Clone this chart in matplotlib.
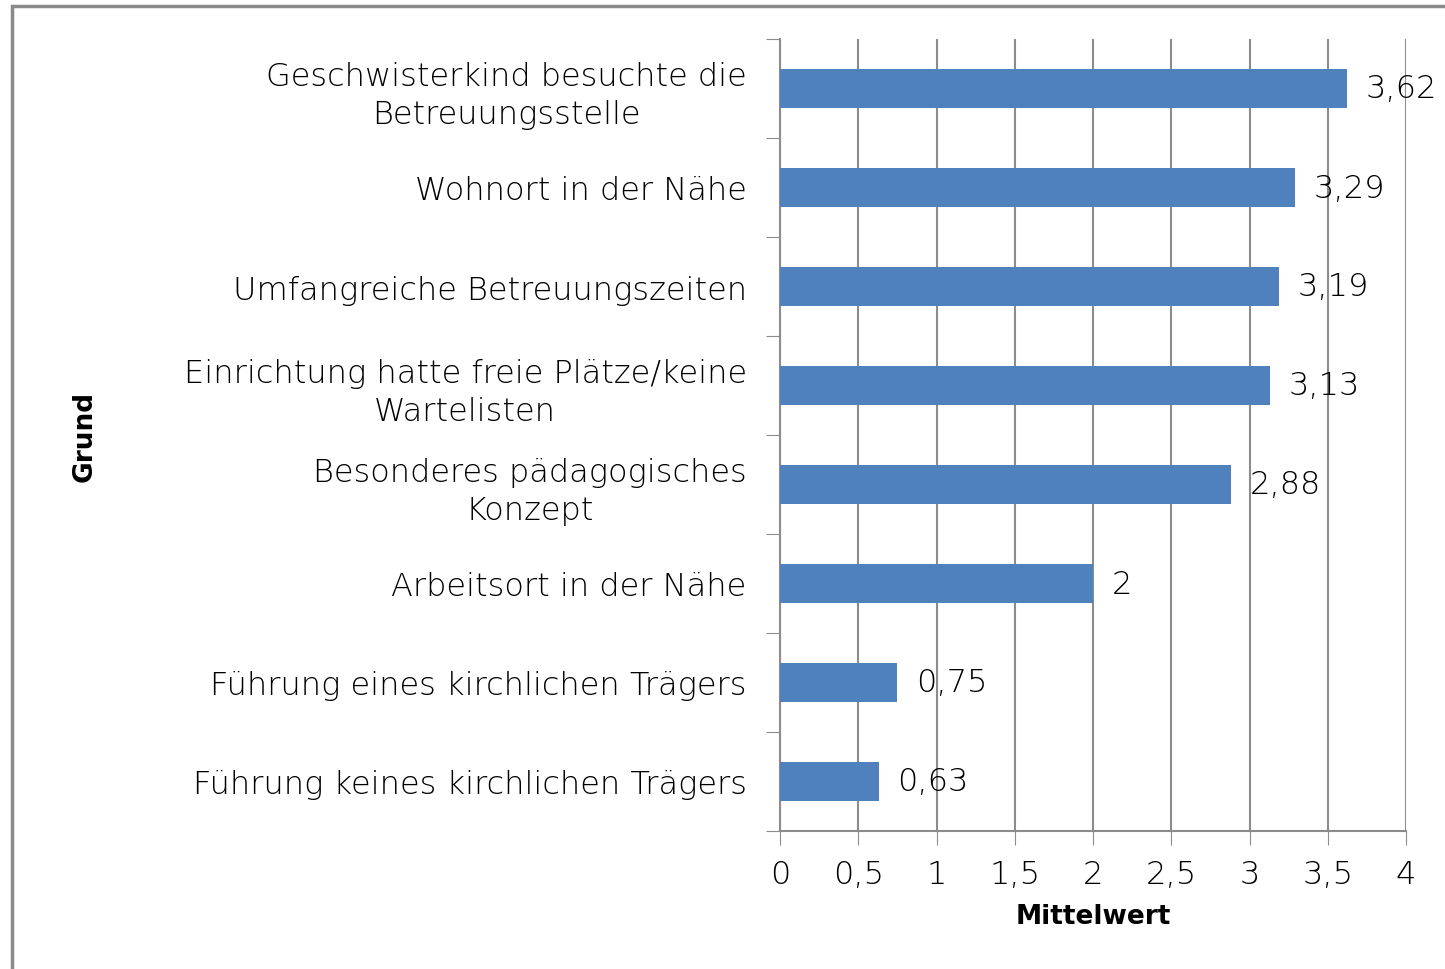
import matplotlib.pyplot as plt
from matplotlib.patches import Rectangle

# data (top to bottom)
categories = [
    "Geschwisterkind besuchte die\nBetreuungsstelle",
    "Wohnort in der Nähe",
    "Umfangreiche Betreuungszeiten",
    "Einrichtung hatte freie Plätze/keine\nWartelisten",
    "Besonderes pädagogisches\nKonzept",
    "Arbeitsort in der Nähe",
    "Führung eines kirchlichen Trägers",
    "Führung keines kirchlichen Trägers",
]
values = [3.62, 3.29, 3.19, 3.13, 2.88, 2.0, 0.75, 0.63]
xticks = [0, 0.5, 1, 1.5, 2, 2.5, 3, 3.5, 4]

plt.rcParams['font.family'] = ['DejaVu Sans']
bar_color = '#4F81BD'
grid_color = '#8C8C8C'
fs = 23

fig = plt.figure(figsize=(14.45, 9.7), dpi=100)
ax = fig.add_axes([780 / 1445, 1 - 832 / 970, 626 / 1445, 792 / 970])

n = len(categories)
ypos = list(range(n))
ax.barh(ypos, values, height=0.39, color=bar_color, zorder=3)

for y, v in zip(ypos, values):
    lbl = f"{v:g}".replace('.', ',')
    ax.text(v + 0.12, y, lbl, va='center', ha='left', fontsize=fs,
            fontweight='light', color='black', zorder=4)

ax.set_xlim(0, 4)
ax.set_ylim(n - 0.5, -0.5)

ax.set_xticks(xticks)
ax.set_xticklabels([f"{t:g}".replace('.', ',') for t in xticks],
                   fontsize=fs, fontweight='light')
ax.tick_params(axis='x', length=10, color=grid_color, pad=10)
ax.xaxis.grid(True, color=grid_color, linewidth=1.5, zorder=0)

# category boundaries as major ticks, labels on minor ticks at centres
ax.set_yticks([i - 0.5 for i in range(n + 1)])
ax.set_yticklabels([])
ax.tick_params(axis='y', which='major', length=10, color=grid_color)
ax.set_yticks(ypos, minor=True)
ax.set_yticklabels(categories, minor=True, fontsize=fs, fontweight='light',
                   multialignment='center', linespacing=1.3)
ax.tick_params(axis='y', which='minor', length=0, pad=24)

for s in ['top', 'right']:
    ax.spines[s].set_visible(False)
for s in ['left', 'bottom']:
    ax.spines[s].set_color(grid_color)
    ax.spines[s].set_linewidth(1.5)

ax.set_xlabel("Mittelwert", fontsize=19, fontweight='bold', labelpad=10)
fig.text(85 / 1445, 1 - 436 / 970, "Grund", rotation=90, fontsize=19,
         fontweight='bold', ha='center', va='center')

# outer chart frame (left and top edges visible)
fig.patches.append(Rectangle((12 / 1445, -0.05), 1.1, 1 - 7 / 970 + 0.05,
                             transform=fig.transFigure, fill=False,
                             edgecolor='#8A8A8A', linewidth=2.5))

fig.savefig('out.png', dpi=100)
